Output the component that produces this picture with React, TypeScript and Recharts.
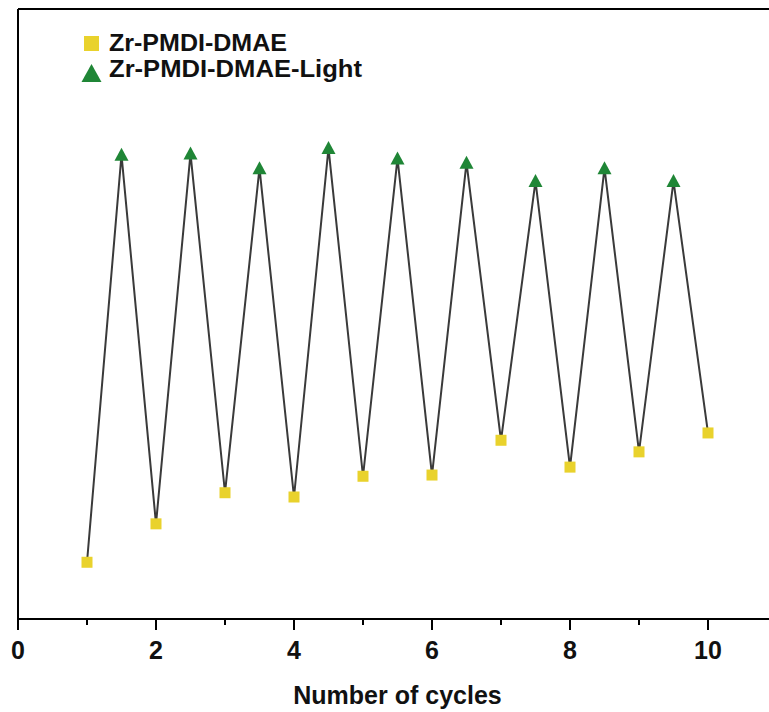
import { ComposedChart, Line, Scatter, XAxis, YAxis, Legend } from 'recharts';

// cycle number and reading (arbitrary units, y axis not labelled in the source)
const darkCycles = [1, 2, 3, 4, 5, 6, 7, 8, 9, 10];
const darkValues = [9.3, 15.6, 20.7, 20.0, 23.4, 23.6, 29.3, 24.9, 27.4, 30.5];
const lightCycles = [1.5, 2.5, 3.5, 4.5, 5.5, 6.5, 7.5, 8.5, 9.5];
const lightValues = [76.1, 76.3, 73.9, 77.2, 75.5, 74.8, 71.8, 73.9, 71.8];
const xTicks = [0, 1, 2, 3, 4, 5, 6, 7, 8, 9, 10];

const darkData = darkCycles.map((c, i) => ({ cycle: c, value: darkValues[i] }));
const lightData = lightCycles.map((c, i) => ({ cycle: c, value: lightValues[i] }));
const allData = [...darkData, ...lightData].sort((a, b) => a.cycle - b.cycle);

const FONT = "'Liberation Sans', Arial, sans-serif";
const YELLOW = '#E9D22C';
const GREEN = '#1F8636';

const SquareDot = (props: any) => {
    const { cx, cy } = props;
    return <rect x={cx - 5.5} y={cy - 5.5} width={11} height={11} fill={YELLOW} />;
};

const TriangleDot = (props: any) => {
    const { cx, cy } = props;
    return <polygon points={`${cx - 7},${cy + 6} ${cx + 7},${cy + 6} ${cx},${cy - 7}`} fill={GREEN} />;
};

const CycleTick = (props: any) => {
    const { x, y, payload } = props;
    const major = payload.value % 2 === 0;
    return (
        <g>
            <line x1={x} x2={x} y1={y} y2={y + (major ? 11 : 6)} stroke="#000" strokeWidth={2} />
            {major && (
                <text x={x} y={y + 40} textAnchor="middle" fontFamily={FONT} fontWeight="bold" fontSize={25} fill="#111">
                    {payload.value}
                </text>
            )}
        </g>
    );
};

const AxisTitle = (props: any) => {
    const { viewBox } = props;
    return (
        <text x={viewBox.x + viewBox.width / 2} y={viewBox.y + 85} textAnchor="middle" fontFamily={FONT} fontWeight="bold" fontSize={25} fill="#111">
            Number of cycles
        </text>
    );
};

const LegendBox = () => (
    <svg width={300} height={60}>
        <rect x={4} y={6} width={15} height={15} fill={YELLOW} />
        <text x={29} y={21} fontFamily={FONT} fontWeight="bold" fontSize={24} fill="#111" textLength={178} lengthAdjust="spacingAndGlyphs">
            Zr-PMDI-DMAE
        </text>
        <polygon points="1.5,52 21.5,52 11.5,34" fill={GREEN} />
        <text x={29} y={47} fontFamily={FONT} fontWeight="bold" fontSize={24} fill="#111" textLength={253} lengthAdjust="spacingAndGlyphs">
            Zr-PMDI-DMAE-Light
        </text>
    </svg>
);

export default function App() {
    return (
        <div style={{ position: 'absolute', left: 0, top: 0, width: 769, height: 712, overflow: 'hidden', background: '#fff' }}>
            <ComposedChart width={780} height={712} margin={{ top: 8, right: 3, bottom: 0, left: 17 }}>
                <XAxis
                    dataKey="cycle"
                    type="number"
                    domain={[0, 11]}
                    ticks={xTicks}
                    interval={0}
                    height={93}
                    tickSize={0}
                    tickMargin={0}
                    tickLine={false}
                    tick={<CycleTick />}
                    axisLine={{ stroke: '#000', strokeWidth: 2 }}
                    label={<AxisTitle />}
                />
                <XAxis xAxisId="top" orientation="top" type="number" domain={[0, 11]} height={1} tick={false} tickLine={false} axisLine={{ stroke: '#000', strokeWidth: 2 }} />
                <YAxis type="number" domain={[0, 100]} width={1} tick={false} tickLine={false} axisLine={{ stroke: '#000', strokeWidth: 2 }} />
                <Line data={allData} dataKey="value" stroke="#3a3a3a" strokeWidth={2} dot={false} activeDot={false} isAnimationActive={false} legendType="none" />
                <Scatter data={darkData} dataKey="value" name="Zr-PMDI-DMAE" shape={<SquareDot />} isAnimationActive={false} />
                <Scatter data={lightData} dataKey="value" name="Zr-PMDI-DMAE-Light" shape={<TriangleDot />} isAnimationActive={false} />
                <Legend layout="vertical" align="center" verticalAlign="middle" content={<LegendBox />} wrapperStyle={{ left: 80, top: 30, width: 300, height: 60 }} />
            </ComposedChart>
        </div>
    );
}
